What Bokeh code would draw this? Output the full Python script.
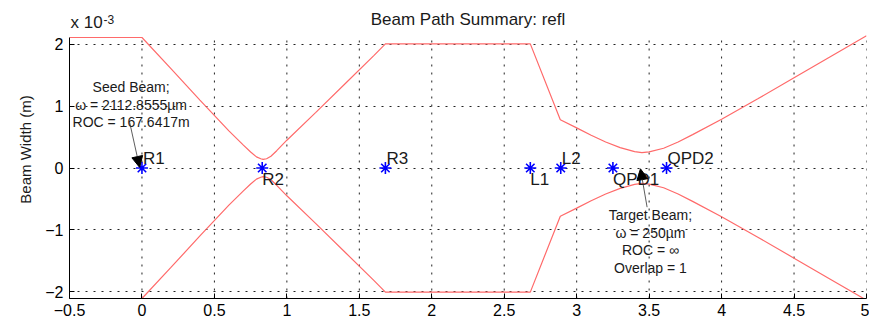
from bokeh.plotting import figure
from bokeh.models import FixedTicker, Arrow, NormalHead, ColumnDataSource
from bokeh.core.properties import value
from bokeh.embed import file_html
from bokeh.resources import INLINE

# ---- data (beam width in units of 1e-3 m) ----
path_x = [-0.5, 0.0, 0.2, 0.4, 0.6, 0.7, 0.75, 0.79, 0.82, 0.836, 0.86, 0.89, 0.93,
          1.0, 1.2, 1.4, 1.6, 1.68, 2.68, 2.887, 3.0, 3.1, 3.2, 3.3, 3.4, 3.45, 3.5,
          3.6, 3.7, 3.8, 4.0, 4.25, 4.5, 4.75, 5.0]
width_upper = [2.113, 2.113, 1.61, 1.10, 0.60, 0.37, 0.26, 0.18, 0.15, 0.14, 0.15, 0.19, 0.28,
               0.45, 0.90, 1.36, 1.82, 2.01, 2.01, 0.78, 0.65, 0.53, 0.42, 0.33, 0.265, 0.25, 0.26,
               0.32, 0.42, 0.54, 0.79, 1.12, 1.46, 1.80, 2.14]
width_lower = [-w for w in width_upper]

comp_names = ["R1", "R2", "R3", "L1", "L2", "QPD1", "QPD2"]
comp_x = [0.0, 0.83, 1.68, 2.68, 2.89, 3.25, 3.62]
comp_y = [0, 0, 0, 0, 0, 0, 0]

x_ticks = [-0.5, 0, 0.5, 1, 1.5, 2, 2.5, 3, 3.5, 4, 4.5, 5]
x_tick_labels = ["-0.5", "0", "0.5", "1", "1.5", "2", "2.5", "3", "3.5", "4", "4.5", "5"]
y_ticks = [-2, -1, 0, 1, 2]
y_tick_labels = ["-2", "-1", "0", "1", "2"]
x_limits = (-0.5, 5.0)
y_limit = 2.1128555

title_text = "Beam Path Summary: refl"
exponent_base = "x 10"
exponent_power = "-3"

seed_lines = ["Seed Beam;", "\u03c9 = 2112.8555\u00b5m", "ROC = 167.6417m"]
seed_anchor = (-0.075, 1.02)
seed_arrow = (-0.085, 0.74, -0.016, 0.01)
target_lines = ["Target Beam;", "\u03c9 = 250\u00b5m", "ROC = \u221e", "Overlap = 1"]
target_anchor = (3.509, -1.19)
target_arrow = (3.486, -0.634, 3.44, -0.013)

FONT = "Liberation Sans"
TEXT_COLOR = "#1a1a1a"

# layout (pixels)
W, H = 869, 325
AX_TOP = 37        # pixel gap between canvas top and the axes box top
BORDER_B = 27
axes_h = H - AX_TOP - BORDER_B
y_top = y_limit + AX_TOP * (2 * y_limit) / axes_h   # frame extends above the axes box

p = figure(width=W, height=H, x_range=x_limits, y_range=(-y_limit, y_top),
           output_backend="svg", toolbar_location=None,
           min_border_left=69, min_border_right=3, min_border_top=0, min_border_bottom=BORDER_B)
p.outline_line_color = None
p.background_fill_color = "white"
p.border_fill_color = "white"

for ax, ticks, labels in ((p.xaxis[0], x_ticks, x_tick_labels), (p.yaxis[0], y_ticks, y_tick_labels)):
    ax.ticker = FixedTicker(ticks=ticks)
    ax.major_label_overrides = {f"{t:g}": lab for t, lab in zip(ticks, labels)}
    ax.axis_line_color = "black"
    ax.major_tick_line_color = "black"
    ax.major_tick_in = 5
    ax.major_tick_out = 0
    ax.minor_tick_line_color = None
    ax.major_label_text_font = FONT
    ax.major_label_text_font_size = "16px"
    ax.major_label_text_color = "black"

p.yaxis.bounds = (-y_limit, y_limit)
p.xaxis.major_label_standoff = 5
p.yaxis.major_label_standoff = 6
p.yaxis.axis_label = "Beam Width (m)"
p.yaxis.axis_label_text_font = FONT
p.yaxis.axis_label_text_font_size = "15px"
p.yaxis.axis_label_text_font_style = "normal"
p.yaxis.axis_label_text_color = TEXT_COLOR
p.yaxis.axis_label_standoff = 8

GRID = dict(line_color="#222222", line_dash="2 6", line_width=1)
p.xgrid.visible = False
p.ygrid.grid_line_color = GRID["line_color"]
p.ygrid.grid_line_dash = GRID["line_dash"]
p.ygrid.grid_line_width = 1
# vertical grid lines limited to the axes box
p.segment(x0=x_ticks, y0=[-y_limit] * len(x_ticks), x1=x_ticks, y1=[y_limit] * len(x_ticks), **GRID)

# beam envelope
p.line(path_x, width_upper, line_color="#ff6a6a", line_width=1.2)
p.line(path_x, width_lower, line_color="#ff6a6a", line_width=1.2)

# components
p.scatter(comp_x, comp_y, marker="asterisk", size=12, line_color="#0000ff", line_width=1.6)
above = ColumnDataSource(dict(x=comp_x[0::2], y=comp_y[0::2], t=comp_names[0::2]))
below = ColumnDataSource(dict(x=comp_x[1::2], y=comp_y[1::2], t=comp_names[1::2]))
p.text(x="x", y="y", text="t", source=above, text_font=value(FONT), text_font_size="17px",
       text_color=TEXT_COLOR, text_baseline="bottom", text_align="left", x_offset=1, y_offset=0)
p.text(x="x", y="y", text="t", source=below, text_font=value(FONT), text_font_size="17px",
       text_color=TEXT_COLOR, text_baseline="top", text_align="left", x_offset=0, y_offset=2)

# annotations
def block(lines, anchor):
    n = len(lines)
    src = ColumnDataSource(dict(x=[anchor[0]] * n, y=[anchor[1]] * n, t=lines,
                                yo=[(i - (n - 1) / 2) * 17.5 for i in range(n)]))
    p.text(x="x", y="y", text="t", y_offset="yo", source=src, text_font=value(FONT),
           text_font_size="14px", text_color=TEXT_COLOR, text_align="center",
           text_baseline="middle")

block(seed_lines, seed_anchor)
block(target_lines, target_anchor)

for (xs, ys, xe, ye) in (seed_arrow, target_arrow):
    p.add_layout(Arrow(end=NormalHead(size=11, fill_color="black", line_color="black"),
                       x_start=xs, y_start=ys, x_end=xe, y_end=ye,
                       line_color="#333333", line_width=0.8))

# title and exponent, placed above the axes box
mid_x = (x_limits[0] + x_limits[1]) / 2
p.text(x=[mid_x], y=[y_limit], text=[title_text], text_font=value(FONT), text_font_size="17px",
       text_color=TEXT_COLOR, text_align="center", text_baseline="bottom", y_offset=-9)
p.text(x=[x_limits[0]], y=[y_limit], text=[exponent_base], text_font=value(FONT),
       text_font_size="17px", text_color=TEXT_COLOR, text_align="left",
       text_baseline="bottom", x_offset=1, y_offset=-6)
p.text(x=[x_limits[0]], y=[y_limit], text=[exponent_power], text_font=value(FONT),
       text_font_size="12px", text_color=TEXT_COLOR, text_align="left",
       text_baseline="bottom", x_offset=34, y_offset=-14)

open("out.html", "w").write(file_html(p, INLINE))
